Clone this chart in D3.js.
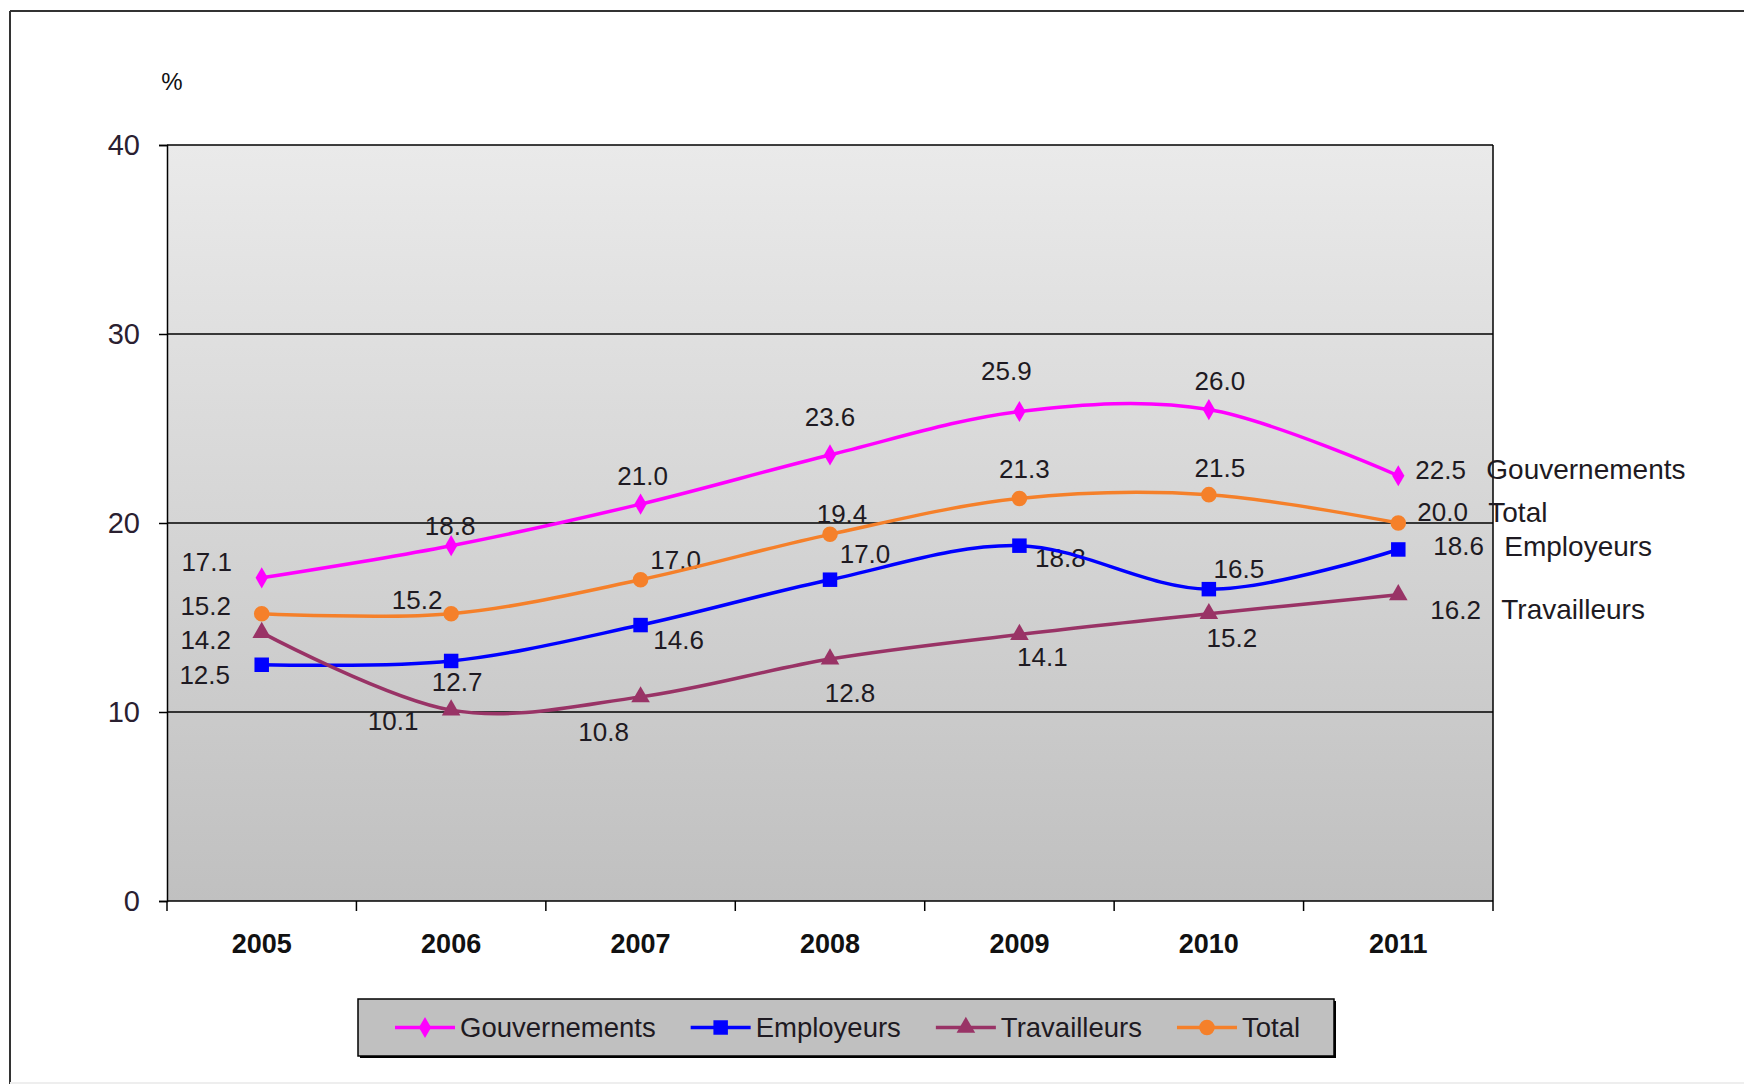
<!DOCTYPE html>
<html>
<head>
<meta charset="utf-8">
<script src="https://cdn.jsdelivr.net/npm/d3@7"></script>
<style>
  html, body { margin: 0; padding: 0; background: #fff; }
  svg { display: block; }
  text { font-family: "Liberation Sans", Arial, sans-serif; }
</style>
</head>
<body>
<svg id="chart" width="1744" height="1088"></svg>
<script>
// ---- Data ----
const years = ["2005", "2006", "2007", "2008", "2009", "2010", "2011"];
const seriesNames = ["Gouvernements", "Employeurs", "Travailleurs", "Total"];
const gouvernements = [17.1, 18.8, 21.0, 23.6, 25.9, 26.0, 22.5];
const employeurs    = [12.5, 12.7, 14.6, 17.0, 18.8, 16.5, 18.6];
const travailleurs  = [14.2, 10.1, 10.8, 12.8, 14.1, 15.2, 16.2];
const total         = [15.2, 15.2, 17.0, 19.4, 21.3, 21.5, 20.0];
const yTicks = [0, 10, 20, 30, 40];

// ---- Styling (label offsets in px relative to point) ----
const seriesColors = ["#ff00ff", "#0000ff", "#993366", "#f5802a"];
const seriesMarkers = ["diamond", "square", "triangle", "circle"];
const labelOffsets = [
  [[-55,-16],[-1,-20],[2,-28],[0,-38],[-13,-40],[11,-29]],
  [[-57,10],[6,21],[38,15],[35,-26],[41,12],[30,-20]],
  [[-56,7],[-58,11],[-37,35],[20,34],[23,22],[23,24]],
  [[-56,-8],[-34,-14],[35,-20],[12,-20],[5,-29],[11,-27]]
];
const endOffsets = [[17,-6],[35,-3],[32,15],[19,-11]]; // last point value + name

const series = [gouvernements, employeurs, travailleurs, total];

const svg = d3.select("#chart");
const W = 1744, H = 1088;
const plot = {left: 167, right: 1493, top: 145, bottom: 901};

// Outer frame
svg.append("rect").attr("x", 0).attr("y", 0).attr("width", W).attr("height", H).attr("fill", "#fff");
svg.append("line").attr("x1", 10).attr("x2", W).attr("y1", 11).attr("y2", 11).attr("stroke", "#333").attr("stroke-width", 2);
svg.append("line").attr("x1", 10).attr("x2", 10).attr("y1", 11).attr("y2", 1084).attr("stroke", "#333").attr("stroke-width", 2);
svg.append("line").attr("x1", 10).attr("x2", W).attr("y1", 1083).attr("y2", 1083).attr("stroke", "#eee").attr("stroke-width", 2);

// Scales
const x = d3.scaleBand().domain(years).range([plot.left, plot.right]).padding(0);
const y = d3.scaleLinear().domain([0, 40]).range([plot.bottom, plot.top]);
const cx = d => x(d) + x.bandwidth() / 2;

// Plot background gradient
const defs = svg.append("defs");
const grad = defs.append("linearGradient").attr("id", "bg").attr("x1", 0).attr("y1", 0).attr("x2", 0).attr("y2", 1);
grad.append("stop").attr("offset", "0%").attr("stop-color", "#eaeaea");
grad.append("stop").attr("offset", "100%").attr("stop-color", "#c0c0c0");
svg.append("rect")
  .attr("x", plot.left).attr("y", plot.top)
  .attr("width", plot.right - plot.left).attr("height", plot.bottom - plot.top)
  .attr("fill", "url(#bg)");

// Gridlines
svg.append("g").selectAll("line").data(yTicks.filter(t => t > 0)).join("line")
  .attr("x1", plot.left).attr("x2", plot.right)
  .attr("y1", d => y(d)).attr("y2", d => y(d))
  .attr("stroke", "#000").attr("stroke-width", 1.5);
// Right border
svg.append("line").attr("x1", plot.right).attr("x2", plot.right).attr("y1", plot.top).attr("y2", plot.bottom)
  .attr("stroke", "#000").attr("stroke-width", 1.5);

// Y axis
const yAxis = svg.append("g").attr("transform", `translate(${plot.left},0)`)
  .call(d3.axisLeft(y).tickValues(yTicks).tickSize(8).tickPadding(19).tickFormat(d3.format("d")));
yAxis.select(".domain").attr("stroke", "#000").attr("stroke-width", 1.5);
yAxis.selectAll(".tick line").attr("stroke", "#000").attr("stroke-width", 1.5);
yAxis.selectAll(".tick text").attr("font-size", 29).attr("fill", "#2a2030")
  .attr("font-family", "'Liberation Sans', Arial, sans-serif");

// X axis: ticks at band boundaries
const xAxisG = svg.append("g").attr("transform", `translate(0,${plot.bottom})`);
xAxisG.append("line").attr("x1", plot.left).attr("x2", plot.right).attr("y1", 0).attr("y2", 0)
  .attr("stroke", "#000").attr("stroke-width", 1.5);
const boundaries = years.map(d => x(d)).concat([plot.right]);
xAxisG.selectAll("line.tk").data(boundaries).join("line").attr("class", "tk")
  .attr("x1", d => d).attr("x2", d => d).attr("y1", 0).attr("y2", 10)
  .attr("stroke", "#000").attr("stroke-width", 1.5);
xAxisG.selectAll("text").data(years).join("text")
  .attr("x", d => cx(d)).attr("y", 43)
  .attr("text-anchor", "middle").attr("dominant-baseline", "central")
  .attr("font-size", 27).attr("font-weight", "bold").attr("fill", "#111")
  .text(d => d);

// "%" unit label
svg.append("text").attr("x", 172).attr("y", 81).attr("text-anchor", "middle")
  .attr("dominant-baseline", "central").attr("font-size", 24).attr("fill", "#111").text("%");

// Marker drawing
const symbolTypes = {diamond: d3.symbolDiamond, square: d3.symbolSquare, triangle: d3.symbolTriangle, circle: d3.symbolCircle};
const symbolSizes = {diamond: 130, square: 210, triangle: 150, circle: 190};
function marker(g, type, color, px, py) {
  g.append("path")
    .attr("d", d3.symbol().type(symbolTypes[type]).size(symbolSizes[type])())
    .attr("transform", `translate(${px},${py})`)
    .attr("fill", color);
}

// Lines
const line = d3.line().x((d, i) => cx(years[i])).y(d => y(d)).curve(d3.curveCatmullRom.alpha(0));
const labelLayer = svg.append("g");
series.forEach((vals, s) => {
  const g = svg.append("g");
  g.append("path").datum(vals).attr("d", line)
    .attr("fill", "none").attr("stroke", seriesColors[s]).attr("stroke-width", 3.5);
  vals.forEach((v, i) => marker(g, seriesMarkers[s], seriesColors[s], cx(years[i]), y(v)));
});

// Data labels
series.forEach((vals, s) => {
  vals.forEach((v, i) => {
    const px = cx(years[i]), py = y(v);
    if (i < vals.length - 1) {
      const [dx, dy] = labelOffsets[s][i];
      labelLayer.append("text").attr("x", px + dx).attr("y", py + dy)
        .attr("text-anchor", "middle").attr("dominant-baseline", "central")
        .attr("font-size", 26).attr("fill", "#1e1a22").text(d3.format(".1f")(v));
    } else {
      const [dx, dy] = endOffsets[s];
      labelLayer.append("text").attr("x", px + dx).attr("y", py + dy)
        .attr("text-anchor", "start").attr("dominant-baseline", "central")
        .attr("font-size", 26).attr("fill", "#1e1a22").text(d3.format(".1f")(v));
      labelLayer.append("text").attr("x", px + dx + 71).attr("y", py + dy)
        .attr("text-anchor", "start").attr("dominant-baseline", "central")
        .attr("font-size", 28).attr("fill", "#1e1a22").text(seriesNames[s]);
    }
  });
});

// Legend
const legend = svg.append("g");
const lg = {x: 358, y: 999, w: 976, h: 57};
legend.append("rect").attr("x", lg.x + 2).attr("y", lg.y + 2).attr("width", lg.w).attr("height", lg.h).attr("fill", "#000");
legend.append("rect").attr("x", lg.x).attr("y", lg.y).attr("width", lg.w).attr("height", lg.h)
  .attr("fill", "#c0c0c0").attr("stroke", "#000").attr("stroke-width", 1.5);
let lx = 395;
const ly = lg.y + lg.h / 2;
seriesNames.forEach((name, s) => {
  legend.append("line").attr("x1", lx).attr("x2", lx + 60).attr("y1", ly).attr("y2", ly)
    .attr("stroke", seriesColors[s]).attr("stroke-width", 3.5);
  marker(legend, seriesMarkers[s], seriesColors[s], lx + 30, ly);
  const t = legend.append("text").attr("x", lx + 65).attr("y", ly)
    .attr("dominant-baseline", "central").attr("font-size", 27.5).attr("fill", "#1e1a22").text(name);
  lx += 65 + t.node().getComputedTextLength() + 35;
});
</script>
</body>
</html>
